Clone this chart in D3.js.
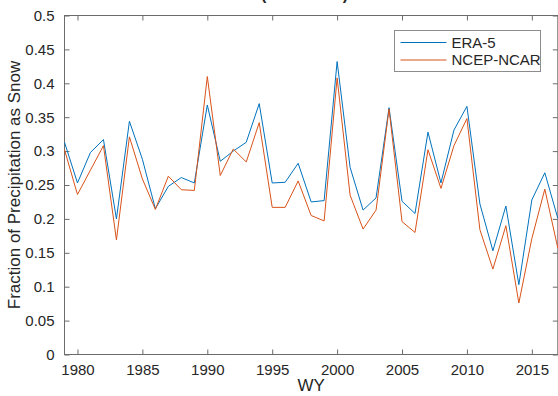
<!DOCTYPE html>
<html>
<head>
<meta charset="utf-8">
<script src="https://cdn.jsdelivr.net/npm/d3@7"></script>
<style>
  html, body { margin: 0; padding: 0; background: #fff; }
  svg { display: block; font-family: "Liberation Sans", Arial, Helvetica, sans-serif; }
</style>
</head>
<body>
<svg id="chart" width="558" height="396"></svg>
<script>
// water years
const years = d3.range(1979, 2018);

// fraction of precipitation as snow
const era5 = [
    0.313, 0.253, 0.298, 0.317, 0.200, 0.344, 0.288, 0.215, 0.248, 0.261,
    0.253, 0.368, 0.285, 0.300, 0.313, 0.370, 0.253, 0.254, 0.282, 0.225,
    0.227, 0.432, 0.276, 0.213, 0.231, 0.364, 0.226, 0.208, 0.328, 0.253,
    0.331, 0.366, 0.222, 0.153, 0.219, 0.103, 0.228, 0.268, 0.201
];
const ncep = [
    0.302, 0.236, 0.272, 0.308, 0.169, 0.321, 0.259, 0.214, 0.263, 0.243,
    0.242, 0.410, 0.264, 0.303, 0.284, 0.342, 0.217, 0.217, 0.256, 0.205,
    0.197, 0.408, 0.235, 0.185, 0.213, 0.362, 0.196, 0.180, 0.302, 0.245,
    0.308, 0.348, 0.184, 0.126, 0.190, 0.076, 0.171, 0.244, 0.157
];

const seriesNames = ['ERA-5', 'NCEP-NCAR'];
const seriesColors = ['#0072BD', '#D95319'];
const xTicks = [1980, 1985, 1990, 1995, 2000, 2005, 2010, 2015];
const yTicks = d3.range(0, 0.501, 0.05);

const plot = { left: 64.5, right: 557.8, top: 15.5, bottom: 354.5 };
const axisColor = '#6b6b6b';
const textColor = '#262626';

const svg = d3.select('#chart');

const x = d3.scaleLinear()
    .domain([1979, 2017])
    .range([plot.left, plot.right]);

const y = d3.scaleLinear()
    .domain([0, 0.5])
    .range([plot.bottom, plot.top]);

/**
 * Title, only its descenders show at the top of the picture
 */
const title = svg.append('text')
    .attr('y', -0.5)
    .attr('fill', textColor)
    .style('font-size', '16px')
    .style('font-weight', 'bold')
    .text('Yearly Snow Fraction at the Basin Scale (1979-2017)');
const paren = title.text().indexOf('(');
title.attr('x', 261 - title.node().getSubStringLength(0, paren));

/**
 * Axes, MATLAB style box with inward ticks
 */
function styleAxis(g) {
    g.select('.domain').remove();
    g.selectAll('.tick line').attr('stroke', axisColor);
    g.selectAll('.tick text')
        .attr('fill', textColor)
        .style('font-size', '15px');
}

svg.append('g')
    .attr('transform', `translate(0,${plot.bottom})`)
    .call(d3.axisBottom(x).tickValues(xTicks).tickFormat(d3.format('d')).tickSizeInner(-5).tickPadding(10))
    .call(styleAxis);

svg.append('g')
    .attr('transform', `translate(0,${plot.top})`)
    .call(d3.axisTop(x).tickValues(xTicks).tickSizeInner(-5).tickFormat(''))
    .call(styleAxis);

svg.append('g')
    .attr('transform', `translate(${plot.left},0)`)
    .call(d3.axisLeft(y).tickValues(yTicks).tickFormat(d => d3.format('')(+d.toFixed(2))).tickSizeInner(-5).tickPadding(10))
    .call(styleAxis);

svg.append('g')
    .attr('transform', `translate(${plot.right},0)`)
    .call(d3.axisRight(y).tickValues(yTicks).tickSizeInner(-5).tickFormat(''))
    .call(styleAxis);

svg.append('rect')
    .attr('x', plot.left)
    .attr('y', plot.top)
    .attr('width', plot.right - plot.left)
    .attr('height', plot.bottom - plot.top)
    .attr('fill', 'none')
    .attr('stroke', axisColor)
    .attr('stroke-width', 1);

/**
 * Axis labels
 */
svg.append('text')
    .attr('x', (plot.left + plot.right) / 2)
    .attr('y', 391)
    .attr('text-anchor', 'middle')
    .attr('fill', textColor)
    .style('font-size', '17px')
    .text('WY');

svg.append('text')
    .attr('transform', `translate(20,${(plot.top + plot.bottom) / 2}) rotate(-90)`)
    .attr('text-anchor', 'middle')
    .attr('fill', textColor)
    .style('font-size', '17px')
    .text('Fraction of Precipitation as Snow');

/**
 * Series lines
 */
const line = d3.line()
    .x(d => x(d.year))
    .y(d => y(d.value));

[era5, ncep].forEach((values, k) => {
    svg.append('path')
        .datum(years.map((year, i) => ({ year, value: values[i] })))
        .attr('fill', 'none')
        .attr('stroke', seriesColors[k])
        .attr('stroke-width', 1)
        .attr('stroke-linejoin', 'miter')
        .attr('d', line);
});

/**
 * Legend
 */
const legend = svg.append('g')
    .attr('transform', 'translate(394.5,30.5)');

legend.append('rect')
    .attr('width', 146)
    .attr('height', 41)
    .attr('fill', '#fff')
    .attr('stroke', '#8c8c8c');

seriesNames.forEach((name, k) => {
    const row = legend.append('g')
        .attr('transform', `translate(0,${12 + k * 17.5})`);

    row.append('line')
        .attr('x1', 6)
        .attr('x2', 52)
        .attr('stroke', seriesColors[k])
        .attr('stroke-width', 1);

    row.append('text')
        .attr('x', 57)
        .attr('dy', '0.36em')
        .attr('fill', textColor)
        .style('font-size', '15px')
        .text(name);
});
</script>
</body>
</html>
